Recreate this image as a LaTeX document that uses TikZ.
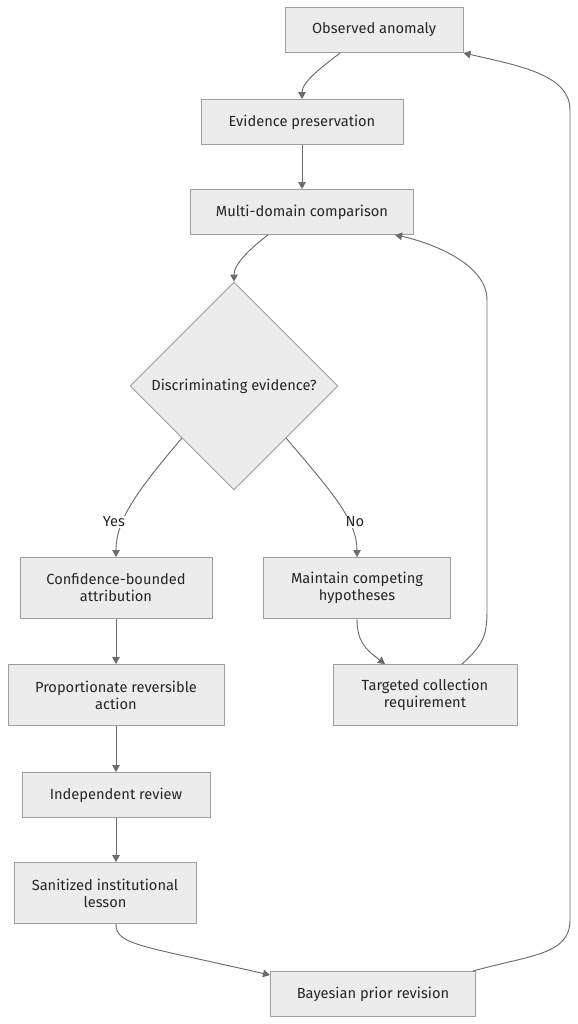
\documentclass[tikz,border=0pt]{standalone}
\usepackage{fontspec}
\setmainfont{Fira Sans}
\usepackage{tikz}
\usetikzlibrary{calc,shapes.geometric,arrows.meta}
\definecolor{boxfill}{HTML}{ECECEC}
\definecolor{boxline}{HTML}{9E9E9E}
\definecolor{edgeline}{HTML}{6B6B6B}

\begin{document}
\begin{tikzpicture}[x=0.03cm,y=-0.03cm,
  every node/.style={font=\fontsize{12.5}{14.5}\selectfont,text=black!85},
  box/.style={draw=boxline,fill=boxfill,line width=0.8pt,minimum height=1.35cm,inner sep=0,align=center},
  twoline/.style={box,minimum height=1.83cm},
  choice/.style={draw=boxline,fill=boxfill,line width=0.8pt,diamond,aspect=1,minimum width=6.24cm,minimum height=6.24cm,inner sep=0},
  flow/.style={draw=edgeline,line width=0.8pt,-{Triangle[length=6pt,width=6.5pt]}},
  lbl/.style={fill=white,inner sep=1pt}]
\useasboundingbox (0,0) rectangle (577,1024);
% Main column
\node[box,minimum width=5.34cm] (obs) at (374,30) {Observed anomaly};
\node[box,minimum width=6.06cm] (evid) at (302,122) {Evidence preservation};
\node[box,minimum width=6.69cm] (multi) at (302,212) {Multi-domain comparison};
\node[choice] (dec) at (234,386) {Discriminating evidence?};
% Yes branch
\node[twoline,minimum width=5.76cm] (conf) at (116,588) {Confidence-bounded\\attribution};
\node[twoline,minimum width=6.48cm] (prop) at (116,695) {Proportionate reversible\\action};
\node[box,minimum width=5.64cm] (indep) at (116,795) {Independent review};
\node[twoline,minimum width=5.46cm] (sanit) at (105,893) {Sanitized institutional\\lesson};
\node[box,minimum width=6.15cm] (bayes) at (373,994) {Bayesian prior revision};
% No branch
\node[twoline,minimum width=5.61cm] (maint) at (357,588) {Maintain competing\\hypotheses};
\node[twoline,minimum width=5.52cm] (targ) at (425,695) {Targeted collection\\requirement};
% Connectors
\draw[flow] ($(obs.south)+(-34,0)$) .. controls +(-15,12) and +(0,-18) .. (evid.north);
\draw[flow] (evid) -- (multi);
\draw[flow] ($(multi.south)+(-34,0)$) .. controls +(-16,12) and +(0,-18) .. (dec.north);
\draw[flow] (dec.south west) .. controls +(-45,53) and +(0,-37) .. (conf.north);
\draw[flow] (dec.south east) .. controls +(45,53) and +(0,-37) .. (maint.north);
\draw[flow] (conf) -- (prop);
\draw[flow] (prop) -- (indep);
\draw[flow] (indep.south) -- (indep.south |- sanit.north);
\draw[flow] (maint.south) .. controls +(0,22) and +(-20,-15) .. ($(targ.north)+(-40,0)$);
\draw[flow] ($(targ.north)+(37,0)$) .. controls +(22,-20) and +(0,25) .. (487,610)
  -- (487,300) .. controls +(0,-40) and +(25,5) .. ($(multi.south)+(93,0)$);
\draw[flow] ($(sanit.south)+(11,0)$) .. controls +(0,21) and +(-131,-30) .. ($(bayes.north west)+(0,4)$);
\draw[flow] ($(bayes.north)+(100,0)$) .. controls +(57,-16) and +(0,35) .. (570,920)
  -- (570,110) .. controls +(0,-35) and +(57,13) .. (obs.south east);
% Branch labels
\node[lbl] (yes) at (114,522) {Yes};
\node[lbl] (no) at (355,522) {No};
\end{tikzpicture}
\end{document}
